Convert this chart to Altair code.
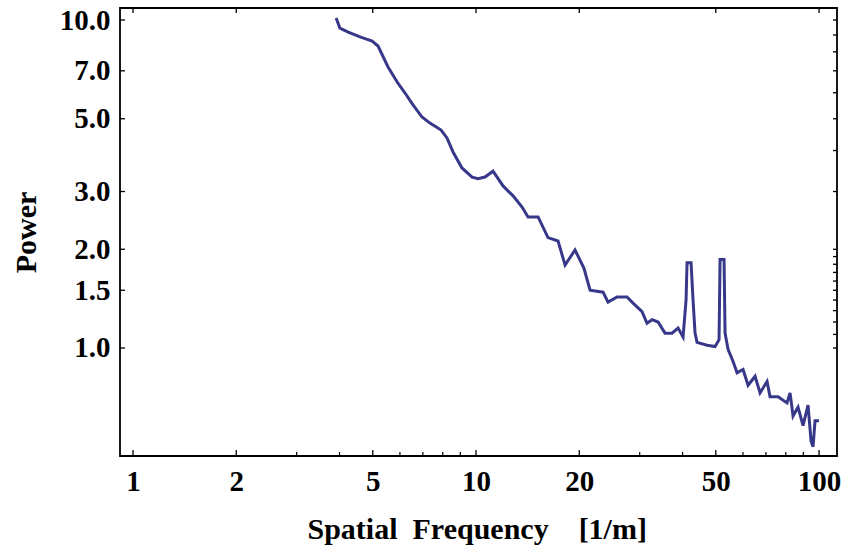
import altair as alt
import pandas as pd

# Spectrum (spatial frequency in 1/m, power)
freq = [3.91, 4.01, 4.24, 4.59, 4.98, 5.18, 5.54, 5.89, 6.21, 6.55,
        6.96, 7.34, 7.91, 8.23, 8.57, 9.10, 9.74, 10.13, 10.62, 11.21,
        11.99, 12.82, 13.62, 14.18, 15.17, 16.21, 17.34, 18.18, 19.44, 20.64,
        21.50, 23.46, 24.26, 25.77, 27.55, 28.69, 30.48, 31.51, 32.60, 33.94,
        35.56, 37.27, 38.81, 40.14, 40.95, 41.23, 42.35, 42.92, 43.50, 44.09,
        47.15, 49.75, 51.11, 51.45, 52.85, 53.21, 54.29, 56.15, 57.68, 60.05,
        62.10, 65.09, 67.30, 70.54, 71.97, 75.94, 80.66, 82.31, 83.98, 86.85,
        89.81, 92.88, 94.77, 96.05, 97.34, 100.0]
power = [10.14, 9.45, 9.19, 8.88, 8.63, 8.33, 7.19, 6.47, 5.99, 5.51,
         5.06, 4.85, 4.62, 4.37, 3.96, 3.54, 3.32, 3.28, 3.32, 3.46,
         3.12, 2.91, 2.69, 2.51, 2.51, 2.17, 2.12, 1.79, 1.99, 1.75,
         1.50, 1.48, 1.38, 1.43, 1.43, 1.37, 1.29, 1.19, 1.22, 1.20,
         1.11, 1.11, 1.15, 1.08, 1.40, 1.82, 1.82, 1.40, 1.11, 1.04,
         1.02, 1.01, 1.06, 1.86, 1.86, 1.11, 0.99, 0.91, 0.84, 0.86,
         0.77, 0.82, 0.73, 0.79, 0.71, 0.71, 0.68, 0.73, 0.62, 0.66,
         0.58, 0.67, 0.52, 0.50, 0.60, 0.60]

x_labels = [1, 2, 5, 10, 20, 50, 100]
x_minor = [3, 4, 6, 7, 8, 9, 30, 40, 60, 70, 80, 90]
y_labels = [1.0, 1.5, 2.0, 3.0, 5.0, 7.0, 10.0]
y_right = [1.0, 1.1, 1.2, 1.3, 1.4, 1.5, 1.6, 1.7, 1.8, 1.9, 2.0,
           3.0, 4.0, 5.0, 6.0, 7.0, 8.0, 9.0, 10.0]
x_domain = [0.9165, 112.8]
y_domain = [0.4685, 10.88]

W, H = 717, 448
FONT = "Liberation Serif"
LINE = "#38388a"

xs = alt.Scale(type="log", domain=x_domain, nice=False)
ys = alt.Scale(type="log", domain=y_domain, nice=False)

x_axis = alt.Axis(
    values=x_labels, format="d", ticks=False, tickSize=0, domain=False, grid=False,
    labelFont=FONT, labelFontSize=29, labelFontWeight="bold", labelColor="black",
    labelPadding=11, labelFlush=False, labelOverlap=False,
    title="Spatial\u2002Frequency\u2003[1/m]", titleFont=FONT, titleFontSize=30,
    titleFontWeight="bold", titleColor="black", titleAnchor="start",
    titleAlign="left", titleX=187, titleY=82, titleBaseline="alphabetic")
y_axis = alt.Axis(
    values=y_labels, format=".1f", ticks=False, tickSize=0, domain=False, grid=False,
    labelFont=FONT, labelFontSize=29, labelFontWeight="bold", labelColor="black",
    labelPadding=10, labelFlush=False, labelOverlap=False,
    title="Power", titleFont=FONT, titleFontSize=30, titleFontWeight="bold",
    titleColor="black", titleAngle=270, titleAlign="center", titleBaseline="middle",
    titleX=-94, titleY=224)

df = pd.DataFrame({"freq": freq, "power": power})

line = alt.Chart(df).mark_line(color=LINE, strokeWidth=3, strokeJoin="miter").encode(
    x=alt.X("freq:Q", scale=xs, axis=x_axis),
    y=alt.Y("power:Q", scale=ys, axis=y_axis),
)

xmaj = pd.DataFrame({"freq": x_labels})
xmin = pd.DataFrame({"freq": x_minor})
ymaj = pd.DataFrame({"power": y_labels})
yr = pd.DataFrame({"power": y_right})

tick_color = "black"
bottom_major = alt.Chart(xmaj).mark_rule(color=tick_color, strokeWidth=1.3).encode(
    x=alt.X("freq:Q", scale=xs, axis=x_axis), y=alt.value(H), y2=alt.value(H - 6))
bottom_minor = alt.Chart(xmin).mark_rule(color=tick_color, strokeWidth=1.2).encode(
    x=alt.X("freq:Q", scale=xs, axis=x_axis), y=alt.value(H), y2=alt.value(H - 4))
top_major = alt.Chart(xmaj).mark_rule(color=tick_color, strokeWidth=1.3).encode(
    x=alt.X("freq:Q", scale=xs, axis=x_axis), y=alt.value(0), y2=alt.value(5))
left_major = alt.Chart(ymaj).mark_rule(color=tick_color, strokeWidth=1.3).encode(
    y=alt.Y("power:Q", scale=ys, axis=y_axis), x=alt.value(0), x2=alt.value(5))
right_ticks = alt.Chart(yr).mark_rule(color=tick_color, strokeWidth=1.3).encode(
    y=alt.Y("power:Q", scale=ys, axis=y_axis), x=alt.value(W), x2=alt.value(W - 4))

chart = alt.layer(
    line, bottom_major, bottom_minor, top_major, left_major, right_ticks
).properties(
    width=W, height=H,
    autosize=alt.AutoSizeParams(type="none"),
    padding={"left": 120, "top": 8, "right": 11, "bottom": 95},
    background="white",
).configure_view(stroke="black", strokeWidth=1.8)

chart.save("out.html", embed_options={"renderer": "svg", "actions": False})
